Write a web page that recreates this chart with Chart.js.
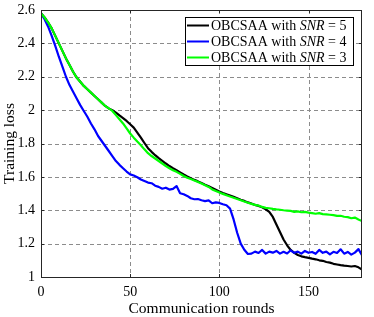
<!DOCTYPE html>
<html>
<head>
<meta charset="utf-8">
<script src="https://cdn.jsdelivr.net/npm/chart.js@4.4.0/dist/chart.umd.min.js"></script>
<style>
  html, body { margin: 0; padding: 0; background: #fff; }
  #wrap { width: 374px; height: 317px; }
</style>
</head>
<body>
<div id="wrap"><canvas id="lossChart" width="374" height="317"></canvas></div>
<script>
// Training loss vs communication rounds, three SNR settings

const rounds = [
  0, 2, 4, 6, 8, 10, 12, 14, 16, 18, 20, 22, 24, 26, 28, 30, 32, 34, 36, 38,
  40, 42, 44, 46, 48, 50, 52, 54, 56, 58, 60, 62, 64, 66, 68, 70, 72, 74, 76, 78,
  80, 82, 84, 86, 88, 90, 92, 94, 96, 98, 100, 102, 104, 106, 108, 110, 112, 114, 116, 118,
  120, 122, 124, 126, 128, 130, 132, 134, 136, 138, 140, 142, 144, 146, 148, 150, 152, 154, 156, 158,
  160, 162, 164, 166, 168, 170, 172, 174, 176, 178, 180
];

const lossSnr5 = [
  2.58, 2.555, 2.525, 2.49, 2.445, 2.40, 2.355, 2.31, 2.27, 2.23, 2.195, 2.17, 2.145, 2.125, 2.105, 2.085, 2.065, 2.045, 2.025, 2.01,
  2.0, 1.985, 1.968, 1.952, 1.935, 1.915, 1.895, 1.865, 1.835, 1.803, 1.772, 1.75, 1.73, 1.712, 1.696, 1.68, 1.665, 1.652, 1.64, 1.627,
  1.614, 1.602, 1.592, 1.582, 1.573, 1.563, 1.553, 1.544, 1.534, 1.523, 1.512, 1.503, 1.495, 1.488, 1.48, 1.472, 1.463, 1.456, 1.447, 1.44,
  1.432, 1.426, 1.418, 1.406, 1.39, 1.36, 1.315, 1.27, 1.225, 1.19, 1.162, 1.145, 1.132, 1.124, 1.119, 1.115, 1.11, 1.106, 1.1, 1.097,
  1.09, 1.086, 1.079, 1.075, 1.071, 1.068, 1.066, 1.063, 1.066, 1.058, 1.045
];

const lossSnr4 = [
  2.58, 2.545, 2.5, 2.445, 2.385, 2.32, 2.26, 2.2, 2.15, 2.11, 2.07, 2.03, 1.995, 1.96, 1.92, 1.885, 1.845, 1.815, 1.785, 1.755,
  1.725, 1.695, 1.672, 1.652, 1.632, 1.615, 1.608, 1.598, 1.584, 1.575, 1.566, 1.562, 1.547, 1.54, 1.529, 1.535, 1.524, 1.528, 1.545, 1.502,
  1.496, 1.486, 1.472, 1.466, 1.467, 1.46, 1.455, 1.459, 1.442, 1.447, 1.444, 1.436, 1.43, 1.41, 1.345, 1.265, 1.2, 1.163, 1.138, 1.14,
  1.152, 1.144, 1.162, 1.14, 1.152, 1.146, 1.156, 1.14, 1.151, 1.141, 1.16, 1.145, 1.152, 1.14, 1.156, 1.145, 1.15, 1.139, 1.162, 1.145,
  1.152, 1.136, 1.151, 1.144, 1.166, 1.14, 1.15, 1.134, 1.146, 1.167, 1.13
];

const lossSnr3 = [
  2.58, 2.555, 2.525, 2.49, 2.445, 2.40, 2.355, 2.31, 2.27, 2.23, 2.195, 2.17, 2.145, 2.125, 2.105, 2.085, 2.065, 2.045, 2.025, 2.01,
  1.995, 1.97, 1.945, 1.92, 1.89, 1.86, 1.835, 1.812, 1.79, 1.765, 1.742, 1.725, 1.71, 1.695, 1.68, 1.665, 1.652, 1.64, 1.63, 1.618,
  1.605, 1.595, 1.587, 1.578, 1.57, 1.56, 1.55, 1.54, 1.525, 1.515, 1.507, 1.498, 1.49, 1.482, 1.475, 1.467, 1.46, 1.452, 1.445, 1.438,
  1.432, 1.428, 1.42, 1.414, 1.412, 1.408, 1.405, 1.403, 1.4, 1.398, 1.396, 1.39, 1.393, 1.388, 1.39, 1.386, 1.383, 1.379, 1.383, 1.377,
  1.375, 1.373, 1.371, 1.366, 1.367, 1.361, 1.359, 1.352, 1.356, 1.345, 1.335
];

const xTicks = [0, 50, 100, 150];
const yTicks = [1, 1.2, 1.4, 1.6, 1.8, 2, 2.2, 2.4, 2.6];
const legendSnr = ['5', '4', '3'];
const legendColors = ['#000000', '#0000ff', '#00ff00'];

const SERIF = '"Liberation Serif", "Times New Roman", serif';

function toPoints(ys) {
  return rounds.map((r, i) => ({ x: r, y: ys[i] }));
}

// dashed grid behind the lines
const gridPlugin = {
  id: 'dashGrid',
  beforeDatasetsDraw(chart) {
    const ctx = chart.ctx;
    const a = chart.chartArea;
    const xs = chart.scales.x, ys = chart.scales.y;
    ctx.save();
    ctx.strokeStyle = '#8c8c8c';
    ctx.lineWidth = 1;
    ctx.setLineDash([4, 3]);
    ctx.beginPath();
    xTicks.forEach(v => {
      const px = Math.round(xs.getPixelForValue(v)) + 0.5;
      ctx.moveTo(px, a.top); ctx.lineTo(px, a.bottom);
    });
    yTicks.forEach(v => {
      const py = Math.round(ys.getPixelForValue(v)) + 0.5;
      ctx.moveTo(a.left, py); ctx.lineTo(a.right, py);
    });
    ctx.stroke();
    ctx.restore();
  }
};

// frame, inner tick marks, legend box and axis titles
const decorPlugin = {
  id: 'decor',
  afterDraw(chart) {
    const ctx = chart.ctx;
    const a = chart.chartArea;
    const xs = chart.scales.x, ys = chart.scales.y;
    ctx.save();
    ctx.strokeStyle = '#262626';
    ctx.lineWidth = 1;
    ctx.setLineDash([]);
    ctx.beginPath();
    xTicks.forEach(v => {
      const px = Math.round(xs.getPixelForValue(v)) + 0.5;
      ctx.moveTo(px, a.bottom); ctx.lineTo(px, a.bottom - 3);
      ctx.moveTo(px, a.top); ctx.lineTo(px, a.top + 3);
    });
    yTicks.forEach(v => {
      const py = Math.round(ys.getPixelForValue(v)) + 0.5;
      ctx.moveTo(a.left, py); ctx.lineTo(a.left + 3, py);
      ctx.moveTo(a.right, py); ctx.lineTo(a.right - 3, py);
    });
    ctx.stroke();
    ctx.strokeRect(Math.round(a.left) + 0.5, Math.round(a.top) + 0.5,
      Math.round(a.right - a.left) - 1, Math.round(a.bottom - a.top));

    // legend
    const bx = 185.5, by = 17.5, bw = 168, bh = 48;
    ctx.fillStyle = '#fff';
    ctx.fillRect(bx, by, bw, bh);
    ctx.strokeStyle = '#000';
    ctx.strokeRect(bx, by, bw, bh);
    ctx.textBaseline = 'middle';
    legendSnr.forEach((s, i) => {
      const y = 25.5 + i * 16;
      ctx.strokeStyle = legendColors[i];
      ctx.lineWidth = 2;
      ctx.beginPath(); ctx.moveTo(187, y); ctx.lineTo(209, y); ctx.stroke();
      ctx.fillStyle = '#000';
      let x = 211;
      ctx.font = '14px ' + SERIF;
      ctx.fillText('OBCSAA with ', x, y + 1);
      x += ctx.measureText('OBCSAA with ').width;
      ctx.font = 'italic 14px ' + SERIF;
      ctx.fillText('SNR', x, y + 1);
      x += ctx.measureText('SNR').width;
      ctx.font = '14px ' + SERIF;
      ctx.fillText(' = ' + s, x, y + 1);
    });

    // axis titles
    ctx.fillStyle = '#000';
    ctx.font = '15.5px ' + SERIF;
    ctx.textAlign = 'center';
    ctx.textBaseline = 'alphabetic';
    ctx.fillText('Communication rounds', (a.left + a.right) / 2, 313);
    ctx.translate(13.5, (a.top + a.bottom) / 2);
    ctx.rotate(-Math.PI / 2);
    ctx.fillText('Training loss', 0, 0);
    ctx.restore();
  }
};

new Chart(document.getElementById('lossChart').getContext('2d'), {
  type: 'line',
  data: {
    datasets: [
      { label: 'SNR = 3', data: toPoints(lossSnr3), borderColor: legendColors[2], borderWidth: 2.2 },
      { label: 'SNR = 4', data: toPoints(lossSnr4), borderColor: legendColors[1], borderWidth: 2.2 },
      { label: 'SNR = 5', data: toPoints(lossSnr5), borderColor: legendColors[0], borderWidth: 2.2 },
    ],
  },
  options: {
    responsive: false,
    animation: false,
    devicePixelRatio: 1,
    layout: { padding: { top: 10, right: 12, left: 0, bottom: 0 } },
    elements: { point: { radius: 0 }, line: { tension: 0, borderJoinStyle: 'round' } },
    plugins: { legend: { display: false }, tooltip: { enabled: false } },
    scales: {
      x: {
        type: 'linear',
        min: 0, max: 180,
        afterBuildTicks: s => { s.ticks = xTicks.map(v => ({ value: v })); },
        afterFit: s => { s.height = 40; s.paddingLeft = 0; s.paddingRight = 0; },
        grid: { display: false, drawTicks: false },
        border: { display: false },
        ticks: { color: '#000', padding: 7, font: { family: SERIF, size: 14 }, maxRotation: 0 },
      },
      y: {
        min: 1, max: 2.6,
        afterBuildTicks: s => { s.ticks = yTicks.map(v => ({ value: v })); },
        afterFit: s => { s.width = 41; s.paddingTop = 0; s.paddingBottom = 0; },
        grid: { display: false, drawTicks: false },
        border: { display: false },
        ticks: {
          color: '#000', padding: 6, font: { family: SERIF, size: 14 },
          callback: v => String(Number(v.toFixed(1))),
        },
      },
    },
  },
  plugins: [gridPlugin, decorPlugin],
});
</script>
</body>
</html>
